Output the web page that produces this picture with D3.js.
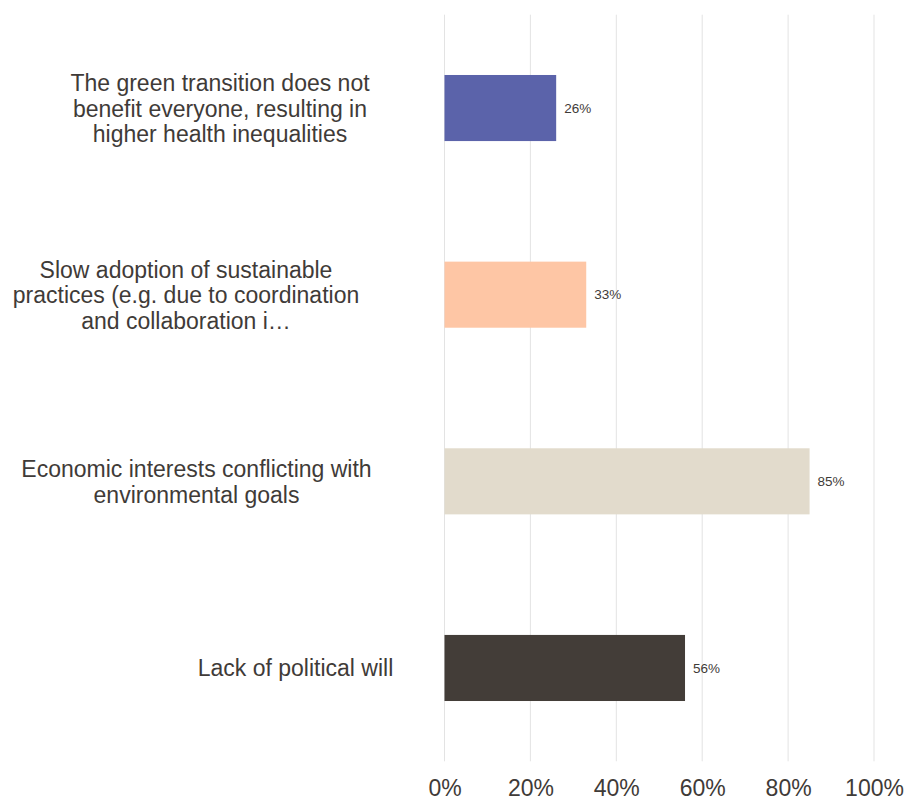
<!DOCTYPE html>
<html>
<head>
<meta charset="utf-8">
<script src="https://cdn.jsdelivr.net/npm/d3@7"></script>
<style>
  html, body { margin: 0; padding: 0; background: #ffffff; }
  svg { display: block; font-family: "Liberation Sans", Arial, sans-serif; }
</style>
</head>
<body>
<svg id="chart" width="907" height="800"></svg>
<script>
// Survey answers: share of respondents naming each barrier
const categories = [
  "The green transition does not\nbenefit everyone, resulting in\nhigher health inequalities",
  "Slow adoption of sustainable\npractices (e.g. due to coordination\nand collaboration i…",
  "Economic interests conflicting with\nenvironmental goals",
  "Lack of political will"
];
const values = [26, 33, 85, 56];
const barColors = ["#5b63aa", "#fec6a5", "#e2dbcc", "#433d38"];
const tickValues = [0, 20, 40, 60, 80, 100];
const tickLabels = ["0%", "20%", "40%", "60%", "80%", "100%"];

// Layout
const width = 907, height = 800;
const margin = { top: 14.7, right: 33, bottom: 38.7, left: 444.5 };
const textColor = "#3f3b38";
const labelCenters = [220, 186, 196.5, 295.5];

const svg = d3.select("#chart");

const x = d3.scaleLinear()
  .domain([0, 100])
  .range([margin.left, width - margin.right]);

const y = d3.scaleBand()
  .domain(d3.range(categories.length))
  .range([margin.top, height - margin.bottom])
  .paddingInner(0.646)
  .paddingOuter(0.323);

// Vertical gridlines
svg.append("g")
  .selectAll("line")
  .data(tickValues)
  .join("line")
  .attr("x1", d => x(d)).attr("x2", d => x(d))
  .attr("y1", margin.top).attr("y2", height - margin.bottom)
  .attr("stroke", "#e3e3e3")
  .attr("stroke-width", 1);

// Bars
svg.append("g")
  .selectAll("rect")
  .data(values)
  .join("rect")
  .attr("x", x(0))
  .attr("y", (d, i) => y(i))
  .attr("width", d => x(d) - x(0))
  .attr("height", y.bandwidth())
  .attr("fill", (d, i) => barColors[i]);

// Value labels
svg.append("g")
  .selectAll("text")
  .data(values)
  .join("text")
  .attr("x", d => x(d) + 8)
  .attr("y", (d, i) => y(i) + y.bandwidth() / 2)
  .attr("dy", "0.35em")
  .attr("font-size", 13.5)
  .attr("fill", textColor)
  .text(d => d + "%");

// X axis tick labels
const xAxis = d3.axisBottom(x)
  .tickValues(tickValues)
  .tickFormat((d, i) => tickLabels[i])
  .tickSize(0)
  .tickPadding(0);

const axisG = svg.append("g")
  .attr("transform", `translate(0,${height - margin.bottom})`)
  .call(xAxis);
axisG.select(".domain").remove();
axisG.selectAll("text")
  .attr("font-size", 23)
  .attr("font-family", "'Liberation Sans', Arial, sans-serif")
  .attr("fill", textColor)
  .attr("dy", null)
  .attr("y", 34.5);

// Category labels (multi-line, centred blocks)
const lineHeight = 25.5;
const catG = svg.append("g");
categories.forEach((label, i) => {
  const lines = label.split("\n");
  const cy = y(i) + y.bandwidth() / 2;
  const first = cy - (lines.length - 1) * lineHeight / 2;
  const t = catG.append("text")
    .attr("text-anchor", "middle")
    .attr("font-size", 23)
    .attr("fill", textColor);
  lines.forEach((ln, j) => {
    t.append("tspan")
      .attr("x", labelCenters[i])
      .attr("y", first + j * lineHeight + 8.5)
      .text(ln);
  });
});
</script>
</body>
</html>
